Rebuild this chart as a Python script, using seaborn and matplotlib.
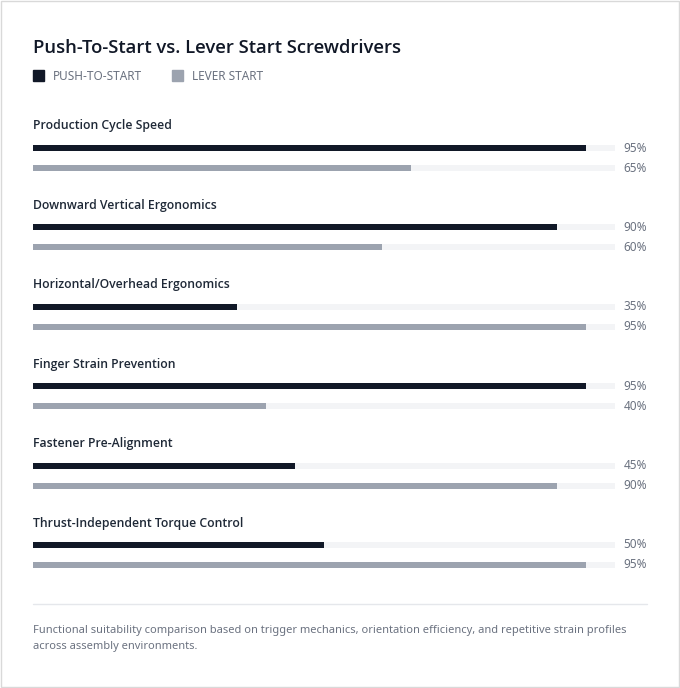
import pandas as pd
import numpy as np
import matplotlib.pyplot as plt
import seaborn as sns
from matplotlib.patches import Rectangle

# values (percent)
categories = ["Production Cycle Speed", "Downward Vertical Ergonomics",
              "Horizontal/Overhead Ergonomics", "Finger Strain Prevention",
              "Fastener Pre-Alignment", "Thrust-Independent Torque Control"]
push_to_start = [95, 90, 35, 95, 45, 50]
lever_start = [65, 60, 95, 40, 90, 95]
series = ["PUSH-TO-START", "LEVER START"]
colors = ["#111827", "#9ca3af"]
track_color = "#f3f4f6"

df = pd.DataFrame({
    "category": categories * 2,
    "value": push_to_start + lever_start,
    "series": [series[0]] * 6 + [series[1]] * 6,
})
df["track"] = 100

sns.set_theme(style="white")
plt.rcParams["font.family"] = ["Noto Sans", "DejaVu Sans"]

W, H = 680, 688
fig = plt.figure(figsize=(W / 100, H / 100), dpi=100)

# pixel geometry of the bar area
x0, x1 = 33, 615
top_c, step = 158, 79.4
ax = fig.add_axes([x0 / W, 1 - (top_c + 5.5 * step) / H, (x1 - x0) / W, 6 * step / H])

sns.barplot(data=df, x="track", y="category", hue="series", orient="h",
            palette=[track_color, track_color], width=0.5, dodge=True,
            legend=False, ax=ax, saturation=1)
sns.barplot(data=df, x="value", y="category", hue="series", orient="h",
            palette=colors, width=0.5, dodge=True, legend=False, ax=ax,
            saturation=1)

# thin bars: 6px tall, centres 20px apart
bar_h = 6 / step
for p in ax.patches:
    cy = p.get_y() + p.get_height() / 2
    p.set_height(bar_h)
    p.set_y(cy - bar_h / 2)
    p.set_edgecolor("none")

ax.set_xlim(0, 100)
ax.set_ylim(5.5, -0.5)
ax.axis("off")

semi = dict(family=["Open Sans", "DejaVu Sans"], fontweight=600)

off = 10 / step
for i, cat in enumerate(categories):
    ax.text(0, i - 32 / step, cat, fontsize=8.8, color="#1f2937",
            va="center", ha="left", **semi)
    ax.text(101.5, i - off, f"{push_to_start[i]}%", fontsize=8.5,
            color="#6b7280", va="center", ha="left")
    ax.text(101.5, i + off, f"{lever_start[i]}%", fontsize=8.5,
            color="#6b7280", va="center", ha="left")

# title and legend
fig.text(33 / W, 1 - 48 / H, "Push-To-Start vs. Lever Start Screwdrivers",
         fontsize=13.3, color="#111827", va="center", **semi)
for sx, tx, lab, c in [(33, 53, series[0], colors[0]), (172, 192, series[1], colors[1])]:
    fig.patches.append(Rectangle((sx / W, 1 - 81 / H), 11 / W, 11 / H,
                                 transform=fig.transFigure, color=c))
    fig.text(tx / W, 1 - 76 / H, lab, fontsize=8.5, color="#6b7280", va="center")

# separator and footnote
fig.add_artist(plt.Line2D([33 / W, 647 / W], [1 - 604 / H, 1 - 604 / H],
                          color="#e5e7eb", lw=1, transform=fig.transFigure))
fig.text(33 / W, 1 - 630 / H,
         "Functional suitability comparison based on trigger mechanics, orientation efficiency, and repetitive strain profiles",
         fontsize=8, color="#6b7280", va="center")
fig.text(33 / W, 1 - 647 / H, "across assembly environments.",
         fontsize=8, color="#6b7280", va="center")

# card border
fig.patches.append(Rectangle((0.5 / W, 1.5 / H), 678 / W, 686 / H, transform=fig.transFigure,
                             fill=False, edgecolor="#d9d9d9", lw=1))

fig.savefig("out.png", dpi=100, facecolor="white")
